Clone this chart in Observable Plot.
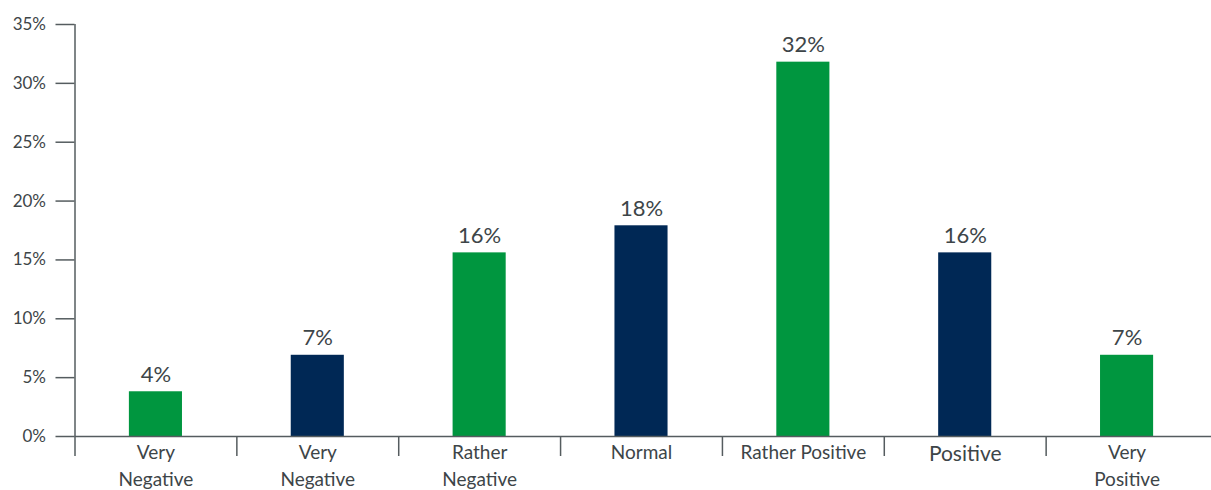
<!DOCTYPE html>
<html>
<head>
<meta charset="utf-8">
<script src="https://cdn.jsdelivr.net/npm/d3@7"></script>
<script src="https://cdn.jsdelivr.net/npm/@observablehq/plot@0.6"></script>
<style>
  html, body { margin: 0; padding: 0; background: #fff; }
  #chart svg { display: block; }
</style>
</head>
<body>
<div id="chart"></div>
<script>
// Survey answers, share of respondents (%)
const categories = ["Very\nNegative", "Very\nNegative", "Rather\nNegative", "Normal", "Rather Positive", "Positive", "Very\nPositive"];
const shares = [3.8, 6.9, 15.6, 17.9, 31.8, 15.6, 6.9];
const barColors = ["#00963f", "#002855", "#00963f", "#002855", "#00963f", "#002855", "#00963f"];
const yTicks = [0, 5, 10, 15, 20, 25, 30, 35];

const rows = categories.map((c, i) => ({i, cat: c, share: shares[i], color: barColors[i]}));
const half = 0.164;           // half bar width, in category slots
const ink = "#3d4548";
const axisInk = "#555c5f";

const chart = Plot.plot({
  width: 1211,
  height: 490,
  marginTop: 24,
  marginBottom: 54,
  marginLeft: 74.5,
  marginRight: 3.5,
  style: {fontFamily: "Lato, 'Open Sans', sans-serif", color: ink, background: "#fff"},
  x: {domain: [0, categories.length], axis: null},
  y: {domain: [0, 35], axis: null},
  marks: [
    Plot.rectY(rows, {
      x1: d => d.i + 0.5 - half,
      x2: d => d.i + 0.5 + half,
      y1: 0,
      y2: "share",
      fill: "color"
    }),
    // y axis with outward ticks
    Plot.axisY({
      ticks: yTicks,
      tickSize: 19,
      tickPadding: 10,
      tickFormat: d => d + "%",
      fontSize: 17,
      stroke: axisInk,
      strokeWidth: 1.5,
      strokeOpacity: 1,
      fill: ink,
      label: null
    }),
    Plot.ruleX([0], {stroke: axisInk, strokeWidth: 1.5}),
    Plot.ruleY([0], {stroke: axisInk, strokeWidth: 1.5, insetRight: -4}),
    // separators between categories below the baseline
    Plot.axisX({
      ticks: d3.range(0, categories.length),
      tickSize: 20,
      tickFormat: () => "",
      stroke: axisInk,
      strokeWidth: 1.5,
      strokeOpacity: 1,
      label: null
    }),
    // value labels
    Plot.text(rows, {
      x: d => d.i + 0.5,
      y: "share",
      text: d => Math.round(d.share) + "%",
      lineAnchor: "bottom",
      dy: -10,
      fontSize: 22,
      fill: ink
    }),
    // category labels
    Plot.text(rows, {
      x: d => d.i + 0.5,
      y: 0,
      text: "cat",
      lineAnchor: "top",
      dy: 3,
      lineHeight: 1.42,
      fontSize: d => d.cat === "Positive" ? 21 : 19,
      fill: ink
    })
  ]
});

document.getElementById("chart").appendChild(chart);
</script>
</body>
</html>
